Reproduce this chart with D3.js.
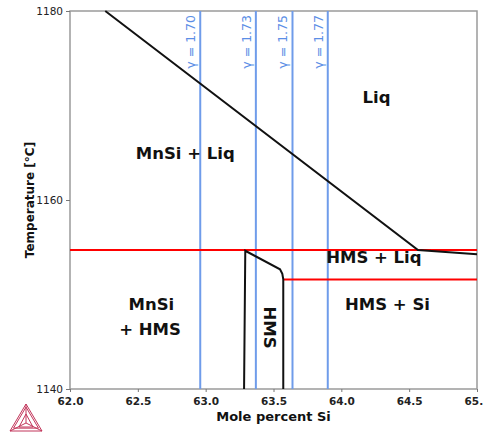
<!DOCTYPE html>
<html>
<head>
<meta charset="utf-8">
<script src="https://cdn.jsdelivr.net/npm/d3@7"></script>
<style>
  body { margin: 0; background: #fff; }
  text { font-family: "DejaVu Sans", sans-serif; }
</style>
</head>
<body>
<svg width="483" height="433"></svg>
<script>
// data
const xTicks = [62.0, 62.5, 63.0, 63.5, 64.0, 64.5, 65.0]
const yTicks = [1140, 1160, 1180]

const gammaX = [62.96, 63.37, 63.64, 63.90]
const gammaLabels = ['γ = 1.70', 'γ = 1.73', 'γ = 1.75', 'γ = 1.77']

// liquidus line
const liqX = [62.26, 64.565, 65.0]
const liqT = [1180, 1154.7, 1154.25]

// HMS single phase boundary
const hmsX = [63.283, 63.292, 63.548, 63.565, 63.572, 63.572]
const hmsT = [1140, 1154.63, 1152.67, 1152.2, 1151.6, 1140]

// invariant (red) lines
const redX1 = [[62.0, 65.0], [63.572, 65.0]]
const redT = [1154.7, 1151.6]

const regionLabels = ['Liq', 'MnSi + Liq', 'HMS + Liq', 'MnSi', '+ HMS', 'HMS + Si']
const regionX = [64.26, 62.85, 64.24, 62.6, 62.59, 64.34]
const regionT = [1170.3, 1164.3, 1153.3, 1148.4, 1145.7, 1148.4]

const svg = d3.select('svg')
const margin = { top: 11, left: 70, right: 6, bottom: 44 }
const width = +svg.attr('width')
const height = +svg.attr('height')

const x = d3.scaleLinear().domain([62, 65]).range([margin.left, width - margin.right])
const y = d3.scaleLinear().domain([1140, 1180]).range([height - margin.bottom, margin.top])

const g = svg.append('g')

// frame
g.append('rect')
  .attr('x', x(62)).attr('y', y(1180))
  .attr('width', x(65) - x(62)).attr('height', y(1140) - y(1180))
  .attr('fill', 'none').attr('stroke', '#9a9a9a').attr('stroke-width', 1.5)

// axes
const xAxis = g.append('g')
  .attr('transform', `translate(0, ${y(1140)})`)
  .call(d3.axisBottom(x).tickValues(xTicks).tickFormat(d3.format('.1f')).tickSize(3))
const yAxis = g.append('g')
  .attr('transform', `translate(${x(62)}, 0)`)
  .call(d3.axisLeft(y).tickValues(yTicks).tickFormat(d3.format('d')).tickSize(4))

for (const ax of [xAxis, yAxis]) {
  ax.select('.domain').remove()
  ax.selectAll('line').attr('stroke', '#777')
  ax.selectAll('text').attr('fill', '#222').attr('font-size', 10.5)
    .attr('font-family', 'DejaVu Sans').attr('font-weight', 'bold')
}
yAxis.selectAll('text').attr('font-weight', 'normal')
xAxis.selectAll('text').attr('dy', '0.95em')

// gamma lines
g.selectAll('.gamma').data(gammaX).join('line')
  .attr('x1', d => x(d)).attr('x2', d => x(d))
  .attr('y1', y(1180)).attr('y2', y(1140))
  .attr('stroke', '#6f9cea').attr('stroke-width', 2)

g.selectAll('.glabel').data(gammaLabels).join('text')
  .attr('transform', (d, i) => `translate(${x(gammaX[i]) - 5}, ${y(1180) + 4}) rotate(-90)`)
  .attr('text-anchor', 'end')
  .attr('font-size', 12.5)
  .attr('fill', '#5b8ee6')
  .text(d => d)

// red lines
g.selectAll('.red').data(redT).join('line')
  .attr('x1', (d, i) => x(redX1[i][0])).attr('x2', (d, i) => x(redX1[i][1]))
  .attr('y1', d => y(d)).attr('y2', d => y(d))
  .attr('stroke', '#ff0000').attr('stroke-width', 2)

const line = d3.line().x(d => x(d[0])).y(d => y(d[1]))

g.append('path')
  .attr('d', line(liqX.map((v, i) => [v, liqT[i]])))
  .attr('fill', 'none').attr('stroke', '#111').attr('stroke-width', 2)

g.append('path')
  .attr('d', line(hmsX.map((v, i) => [v, hmsT[i]])))
  .attr('fill', 'none').attr('stroke', '#111').attr('stroke-width', 2)

// region labels
g.selectAll('.rl').data(regionLabels).join('text')
  .attr('x', (d, i) => x(regionX[i]))
  .attr('y', (d, i) => y(regionT[i]))
  .attr('text-anchor', 'middle')
  .attr('font-size', 16.5)
  .attr('font-weight', 'bold')
  .attr('fill', '#111')
  .text(d => d)

g.append('text')
  .attr('transform', `translate(${x(63.43)}, ${y(1146.5)}) rotate(90)`)
  .attr('text-anchor', 'middle')
  .attr('font-size', 16.5)
  .attr('font-weight', 'bold')
  .attr('fill', '#111')
  .text('HMS')

// axis titles
svg.append('text')
  .attr('x', x(63.5)).attr('y', 421)
  .attr('text-anchor', 'middle')
  .attr('font-size', 13).attr('font-weight', 'bold').attr('fill', '#111')
  .text('Mole percent Si')

svg.append('text')
  .attr('transform', `translate(34, ${y(1160)}) rotate(-90)`)
  .attr('text-anchor', 'middle')
  .attr('font-size', 12).attr('font-weight', 'bold').attr('fill', '#111')
  .text('Temperature [°C]')

// logo
const logo = svg.append('g').attr('transform', 'translate(26, 418)')
  .attr('fill', 'none').attr('stroke', '#c2355a').attr('stroke-width', 1)
const tri = s => [[0, -14 * s], [16 * s, 13 * s], [-16 * s, 13 * s]]
for (const s of [1, 0.78]) {
  logo.append('path').attr('d', d3.line()(tri(s)) + 'Z')
}
const c = [0, 5]
for (const p of tri(1)) {
  logo.append('line').attr('x1', c[0]).attr('y1', c[1]).attr('x2', p[0]).attr('y2', p[1])
}
logo.append('path').attr('d', d3.line()([[0, -4], [7, 9], [-7, 9]]) + 'Z')
</script>
</body>
</html>
